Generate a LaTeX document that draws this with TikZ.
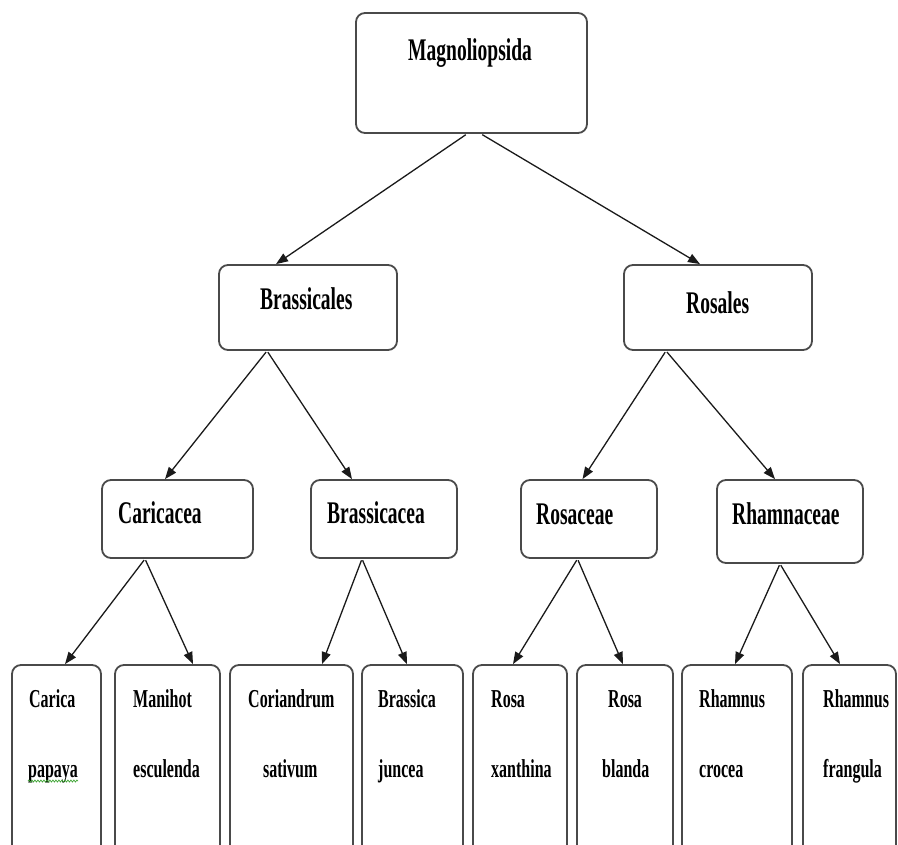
\documentclass[tikz,border=0pt]{standalone}
\usepackage{fontspec}
\usepackage{xcolor}
\usepackage{tikz}
\usetikzlibrary{arrows.meta,decorations.pathmorphing}
\newfontfamily\taxfont{Liberation Serif}[FakeStretch=0.62]
\definecolor{taxline}{HTML}{4A4A4A}
\definecolor{taxarrow}{HTML}{1A1A1A}
\definecolor{spellgreen}{HTML}{3FA535}

\begin{document}
\begin{tikzpicture}[x=1pt,y=-1pt,
  taxbox/.style={draw=taxline,line width=1.8pt,rounded corners=9pt,fill=white,inner sep=0pt},
  taxarr/.style={-{Triangle[length=12pt,width=9pt]},taxarrow,line width=1.3pt,shorten <=1.5pt},
  biglbl/.style={font=\taxfont\bfseries\fontsize{31.5}{34}\selectfont,anchor=base west,inner sep=0pt},
  leaflbl/.style={font=\taxfont\bfseries\fontsize{25.8}{28}\selectfont,anchor=base west,inner sep=0pt},
  spellmark/.style={spellgreen,line width=0.7pt,decorate,decoration={snake,amplitude=1pt,segment length=3pt}}]
  \useasboundingbox (0,0) rectangle (898,845);
  \clip (0,0) rectangle (898,845);
  % boxes: name/left/top/right/bottom
  \foreach \n/\xa/\ya/\xb/\yb in {mag/356/13/587/133,
      bra/219/265/397/350,ros/624/265/812/350,
      car/102/480/253/558,brc/311/480/457/558,rsc/521/480/657/558,rhc/717/480/863/563,
      cp/12/665/101/880,me/115/665/220/880,cs/230/665/353/880,bj/362/665/463/880,
      rx/473/665/567/880,rb/577/665/673/880,rcr/682/665/792/880,rfr/803/665/896/880} {
    \node[taxbox,minimum width=\xb-\xa,minimum height=\yb-\ya] (\n) at ({(\xa+\xb)/2},{(\ya+\yb)/2}) {};
  }
  % arrows
  \foreach \a/\sa/\b/\sb in {mag/-4.5/bra/-32,mag/9.5/ros/-18,
      bra/-41/car/-12.5,bra/-41/brc/-32,ros/-52/rsc/-6.5,ros/-52/rhc/-15,
      car/-32.5/cp/8.5,car/-32.5/me/25.5,brc/-22/cs/30.5,brc/-22/bj/-5.5,
      rsc/-11.5/rx/-7,rsc/-11.5/rb/-2,rhc/-10/rcr/-2,rhc/-10/rfr/-9.5} {
    \draw[taxarr] ([xshift=\sa pt]\a.south) -- ([xshift=\sb pt]\b.north);
  }
  % upper labels
  \foreach \n/\x/\y/\t in {mag/408/61/Magnoliopsida,bra/260/310/Brassicales,ros/686/314/Rosales,
      car/118/523/Caricacea,brc/327/523/Brassicacea,rsc/536/524/Rosaceae,rhc/732/524/Rhamnaceae} {
    \node[biglbl] (l\n) at (\x,\y) {\t};
  }
  % species labels, two lines each
  \foreach \n/\x/\t/\xx/\tt in {cp/29/Carica/28/papaya,me/133/Manihot/133/esculenda,
      cs/248/Coriandrum/263/sativum,bj/378/Brassica/378/juncea,
      rx/491/Rosa/491/xanthina,rb/608/Rosa/602/blanda,
      rcr/699/Rhamnus/699/crocea,rfr/823/Rhamnus/823/frangula} {
    \node[leaflbl] (l\n1) at (\x,707) {\t};
    \node[leaflbl] (l\n2) at (\xx,777) {\tt};
  }
  \draw[spellmark] ([yshift=-4pt]lcp2.base west) -- ([yshift=-4pt]lcp2.base east);
\end{tikzpicture}
\end{document}
